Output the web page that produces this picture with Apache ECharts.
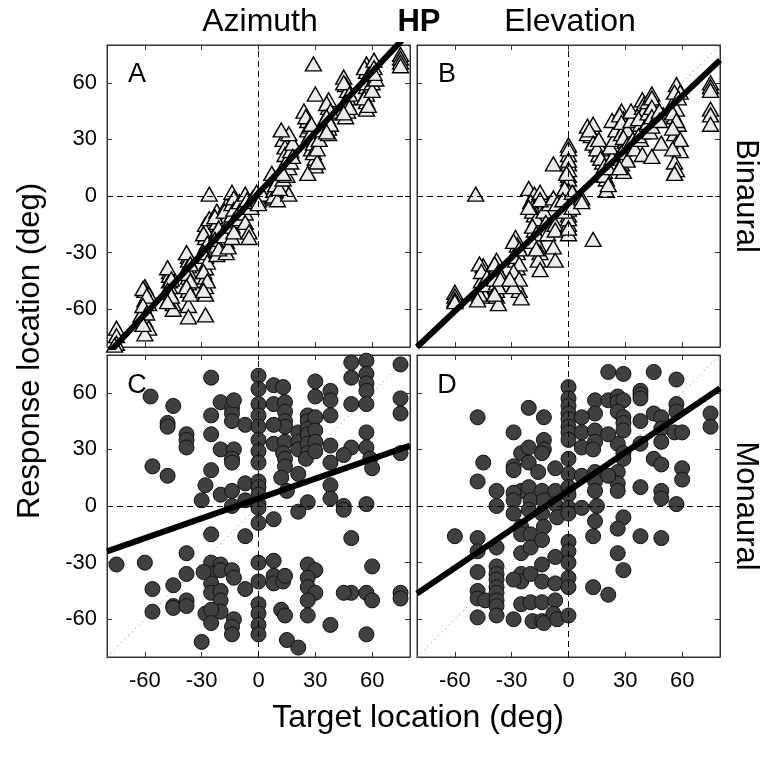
<!DOCTYPE html>
<html>
<head>
<meta charset="utf-8">
<script src="https://cdn.jsdelivr.net/npm/echarts@6/dist/echarts.min.js"></script>
<style>
  html, body { margin: 0; padding: 0; background: #fff; }
  #chart { width: 765px; height: 765px; }
</style>
</head>
<body>
<div id="chart"></div>
<script>
// axis settings
const axisMin = -80
const axisMax = 80
const tickValues = [-60, -30, 0, 30, 60]

// panel A: azimuth, binaural [target, response]
const azBinaural = [
  [-75, -70], [-75, -74], [-75, -78], [-76, -79],
  [-60, -48], [-60, -50], [-58, -52], [-60, -55], [-58, -57], [-60, -60], [-62, -63], [-60, -66], [-58, -70], [-60, -73],
  [-61, -49], [-59, -53], [-61, -58], [-59, -62], [-61, -68],
  [-47, -40], [-47, -42], [-47, -45], [-47, -48], [-47, -51], [-47, -54], [-45, -57], [-45, -60],
  [-48, -38], [-46, -44], [-48, -50], [-46, -53], [-48, -56],
  [-37, -32], [-37, -34], [-37, -37], [-37, -40], [-37, -43], [-37, -46], [-37, -50], [-37, -58], [-37, -64],
  [-38, -30], [-36, -36], [-38, -41], [-36, -45], [-38, -48], [-36, -52],
  [-28, -15], [-28, -18], [-28, -22], [-28, -27], [-28, -32], [-28, -38], [-28, -43], [-28, -48], [-28, -52], [-28, -63], [-26, 1],
  [-29, -20], [-27, -25], [-29, -30], [-27, -35], [-29, -40], [-27, -45], [-29, -50], [-26, -12],
  [-22, -8], [-22, -14], [-22, -20], [-22, -26], [-22, -31], [-17, -5], [-17, -12], [-17, -18], [-17, -24], [-17, -30],
  [-23, -11], [-21, -17], [-23, -23], [-21, -28], [-18, -8], [-16, -15], [-18, -21], [-16, -27],
  [-14, 2], [-14, -4], [-14, -10], [-14, -16], [-14, -22],
  [-13, -1], [-13, -7], [-13, -13], [-13, -19], [-10, -3], [-10, -8], [-10, -12],
  [-7, 1], [-7, -4], [-7, -9], [-7, -14], [-5, -19], [-5, -22],
  [-6, -2], [-4, -6], [-3, -1], [-2, -3], [1, -1], [-1, 2], [3, -1],
  [0, 0], [0, -2], [2, 1], [0, -4], [8, 3], [8, 0], [10, -2],
  [7, 12], [10, 9], [12, 7], [14, 4], [16, 1], [9, 6], [11, 4], [13, 9], [15, 11],
  [13, 30], [14, 26], [14, 22], [15, 19], [16, 15], [13, 12],
  [17, 18], [17, 24], [18, 28], [16, 33], [12, 35], [18, 21],
  [24, 45], [26, 40], [26, 35], [28, 30], [28, 25], [30, 20], [30, 16], [26, 12], [30, 54], [29, 70],
  [25, 42], [27, 37], [27, 32], [29, 28], [29, 23], [31, 18], [31, 25], [32, 30], [32, 35], [28, 38],
  [37, 51], [37, 47], [37, 44], [37, 40], [37, 36], [37, 33],
  [36, 49], [38, 45], [36, 42], [38, 38], [36, 34],
  [45, 63], [46, 59], [47, 56], [47, 52], [47, 49], [47, 45], [46, 42],
  [45, 60], [48, 54], [46, 50], [48, 47], [45, 44],
  [57, 70], [57, 66], [57, 62], [57, 58], [57, 54], [57, 50], [57, 46],
  [56, 68], [58, 64], [56, 60], [58, 56], [56, 52], [58, 48], [60, 60], [60, 56], [62, 62],
  [61, 72], [61, 68], [61, 65],
  [75, 75], [75, 73], [75, 71], [75, 69]
]

// panel B: elevation, binaural
const elBinaural = [
  [-60, -51], [-60, -53], [-60, -55], [-60, -56], [-49, 1],
  [-45, -37], [-46, -45], [-45, -48], [-45, -50], [-44, -53], [-47, -52], [-48, -55], [-47, -36],
  [-46, -40], [-44, -47], [-43, -43],
  [-38, -34], [-38, -38], [-38, -42], [-38, -46], [-38, -50], [-38, -53], [-37, -57],
  [-39, -36], [-37, -40], [-39, -44], [-37, -48], [-39, -52], [-36, -44],
  [-28, -22], [-27, -26], [-27, -30], [-28, -34], [-27, -38], [-28, -42], [-28, -46], [-26, -50], [-25, -54],
  [-29, -24], [-26, -28], [-29, -32], [-26, -36], [-29, -40], [-26, -44], [-29, -48], [-31, -44],
  [-21, 4], [-18, 1], [-20, -3], [-19, -6], [-18, -10], [-17, -14], [-18, -18], [-18, -22], [-16, -26], [-15, -30], [-16, -34], [-15, -39],
  [-19, -8], [-17, -12], [-19, -16], [-17, -20], [-19, -24], [-17, -28], [-13, -8], [-12, -14], [-11, -20], [-10, -4],
  [-15, 2], [-15, -2], [-21, -6],
  [-8, 17], [-8, -1], [-6, -4], [-7, -15], [-7, -18], [-8, -27], [-7, -34],
  [0, 27], [0, 22], [0, 17], [0, 11], [0, 6], [0, 1], [0, -4], [0, -10], [0, -15], [0, -20],
  [0, 25], [0, 19], [0, 14], [0, 9], [0, 3], [0, -2], [0, -7], [0, -12], [0, -17], [-2, 4], [-3, -2], [-2, -8], [2, 2], [2, -6], [-1, 12],
  [7, -1], [7, -3], [13, -23], [20, 3],
  [10, 37], [12, 32], [15, 27], [16, 22], [18, 18], [19, 13], [20, 9], [14, 30], [17, 25], [13, 38], [10, 33],
  [11, 35], [13, 28], [15, 25], [17, 20], [19, 16], [19, 11], [21, 6], [16, 30], [21, 15], [23, 20], [22, 26], [24, 30], [25, 35], [23, 40],
  [28, 45], [29, 41], [30, 37], [28, 33], [30, 29], [29, 25], [30, 21], [28, 17], [29, 13],
  [27, 43], [28, 39], [31, 35], [29, 31], [31, 27], [28, 23], [31, 19], [27, 15], [33, 40], [33, 45], [34, 30], [35, 25],
  [39, 51], [39, 47], [39, 43], [38, 38], [39, 34], [38, 30], [39, 22],
  [40, 49], [40, 45], [37, 41], [40, 36], [37, 32], [42, 50], [42, 44], [42, 39], [43, 34], [45, 49], [46, 44], [50, 43],
  [44, 54], [44, 52], [44, 47], [44, 42], [44, 37], [44, 21], [49, 28], [48, 45], [48, 40],
  [57, 59], [55, 49], [57, 46], [56, 42], [58, 38], [56, 33], [57, 28], [59, 24], [56, 18], [57, 14], [56, 12], [59, 55],
  [56, 55], [58, 52], [55, 44], [57, 40], [55, 36], [59, 30], [55, 25],
  [75, 60], [75, 58], [75, 56], [75, 46], [75, 43], [75, 38]
]

// panel C: azimuth, monaural
const azMonaural = [
  [-57, 58], [-45, 53], [-48, 44], [-48, 42], [-38, 38], [-38, 35], [-38, 31], [-56, 21], [-48, 16],
  [-25, 68], [-25, 48], [-25, 38], [-25, 19], [-28, 11], [-30, 3], [-20, 55], [-20, 30], [-20, 6],
  [-14, 52], [-14, 49], [-14, 45], [-13, 56], [-13, 30], [-14, 25], [-14, 23], [-7, 43], [-14, 8], [-14, 0], [-7, 12], [-7, 3],
  [-25, -15], [-7, -16], [-38, -25], [-75, -31], [-60, -30], [-38, -36], [-56, -44], [-45, -42], [-56, -56], [-45, -53], [-45, -54], [-38, -50], [-38, -53],
  [-25, -30], [-25, -36], [-25, -41], [-25, -46], [-29, -35], [-20, -31], [-20, -34], [-20, -45], [-20, -50], [-20, -56], [-14, -34], [-13, -38], [-7, -44],
  [-28, -57], [-25, -55], [-25, -62], [-13, -60], [-14, -64], [-14, -68], [-30, -72],
  [0, 69], [0, 62], [0, 54], [0, 48], [0, 42], [0, 35], [0, 29], [0, 23], [0, 13], [0, 10], [0, 6], [0, 1], [0, -1], [0, -9],
  [0, -30], [0, -40], [0, -52], [0, -57], [0, -63], [0, -68],
  [8, 64], [13, 63], [8, 54], [14, 55], [14, 50], [14, 45], [14, 42], [8, 43], [8, 33], [14, 34], [13, 28], [14, 25], [14, 21], [12, 15], [15, 8],
  [21, 39], [21, 34], [21, 30], [21, 17], [26, 48], [26, 45], [26, 41], [26, 38], [26, 33], [26, 28], [25, 25],
  [30, 47], [30, 40], [30, 34], [30, 29], [30, 66], [30, 58],
  [38, 61], [38, 56], [38, 48], [38, 32], [38, 23], [38, 11], [38, 4], [26, 2], [21, -3], [8, -7], [45, 0], [45, -2],
  [49, 76], [49, 68], [49, 54], [49, 31], [45, 27], [57, 77], [57, 70], [57, 65], [57, 61], [57, 54], [57, 39], [57, 31], [59, 25], [60, 20], [57, 1],
  [75, 75], [75, 57], [75, 49], [75, 28], [49, -17],
  [8, -29], [8, -37], [8, -41], [13, -40], [14, -37], [12, -55], [14, -58], [15, -71], [21, -75],
  [26, -31], [30, -34], [26, -38], [26, -43], [30, -46], [26, -50], [26, -58], [38, -63],
  [49, -46], [45, -46], [57, -46], [60, -50], [60, -32], [57, -68], [75, -46], [75, -49]
]

// panel D: elevation, monaural
const elMonaural = [
  [-48, 47], [-45, 23], [-48, 13], [-38, 8], [-38, 0], [-60, -16], [-48, -17], [-48, -24], [-48, -35], [-38, -22],
  [-48, -45], [-48, -49], [-44, -50], [-48, -59],
  [-38, -32], [-38, -36], [-38, -39], [-38, -43], [-38, -46], [-38, -50], [-38, -53], [-38, -58],
  [-29, 39], [-21, 52], [-13, 47], [-25, 28], [-29, 21], [-29, 19], [-25, 8], [-29, 7], [-29, 3], [-29, -4], [-25, -11],
  [-21, 31], [-21, 23], [-16, 18], [-21, 10], [-20, 3], [-21, -2], [-13, 35], [-13, 30], [-14, 28], [-7, 20], [-14, 8], [-13, 3], [-14, -4], [-13, -11],
  [-7, 8], [-7, 1], [-6, -6],
  [-25, -15], [-25, -25], [-25, -36], [-25, -40], [-29, -39], [-25, -52], [-29, -60],
  [-20, -15], [-20, -22], [-20, -36], [-20, -51], [-19, -61], [-14, -18], [-14, -31], [-14, -40], [-14, -51], [-14, -61], [-13, -62],
  [-7, -27], [-7, -41], [-7, -50], [-8, -57], [-6, -60],
  [0, 63], [0, 57], [0, 53], [0, 49], [0, 46], [0, 42], [0, 39], [0, 35], [0, 25], [0, 17], [0, 10], [0, 6], [0, -1], [0, -4],
  [0, -19], [0, -24], [0, -30], [0, -38], [0, -43], [0, -58],
  [21, 71], [29, 70], [45, 71], [57, 67], [38, 61], [38, 59], [38, 57],
  [14, 56], [14, 49], [21, 56], [26, 58], [26, 55], [29, 56], [26, 50], [29, 47], [29, 44], [29, 40], [26, 33], [29, 28], [29, 25], [26, 18], [26, 12], [26, 8],
  [7, 47], [7, 39], [7, 31], [14, 40], [14, 34], [13, 30], [21, 38],
  [7, 16], [14, 18], [14, 13], [14, 8], [15, 0], [7, -1], [21, 16],
  [38, 45], [38, 33], [38, 10],
  [45, 49], [49, 47], [49, 41], [49, 34], [45, 25], [49, 22], [49, 8], [49, 4],
  [57, 54], [57, 50], [56, 39], [60, 39], [60, 20], [60, 14], [57, 1],
  [75, 49], [75, 42],
  [14, -8], [13, -16], [29, -6], [26, -12], [38, -16], [49, -17], [26, -25], [29, -34], [13, -43], [21, -47]
]

// regression fits per panel (A, B, C, D)
const fitSlopes = [1.07, 0.95, 0.35, 0.68]
const fitIntercepts = [1.5, -4, 4, 8]

const panelLetters = ['A', 'B', 'C', 'D']
const panelData = [azBinaural, elBinaural, azMonaural, elMonaural]

// 画布布局
const grids = [
  { left: 107, top: 45, width: 303, height: 302 },
  { left: 417, top: 45, width: 303, height: 302 },
  { left: 107, top: 355, width: 303, height: 302 },
  { left: 417, top: 355, width: 303, height: 302 }
]
const letterPos = [[137, 75], [447, 75], [137, 386], [447, 386]]

const FONT = '"Liberation Sans", Arial, sans-serif'

const makeAxis = (dim, i, pos, labels) => ({
  type: 'value',
  gridIndex: i,
  position: pos,
  min: axisMin,
  max: axisMax,
  axisLine: { show: true, onZero: false, lineStyle: { color: '#333', width: 1 } },
  axisTick: { show: true, inside: true, length: 5, customValues: tickValues, lineStyle: { color: '#333' } },
  axisLabel: {
    show: labels,
    customValues: tickValues,
    fontFamily: FONT,
    fontSize: 22,
    color: '#000',
    margin: dim === 'x' ? 13 : 10
  },
  splitLine: { show: false }
})

const xAxes = []
const yAxes = []
grids.forEach((g, i) => {
  xAxes.push(makeAxis('x', i, 'bottom', i >= 2))
  xAxes.push(makeAxis('x', i, 'top', false))
  yAxes.push(makeAxis('y', i, 'left', i % 2 === 0))
  yAxes.push(makeAxis('y', i, 'right', false))
})

const series = []
panelData.forEach((data, i) => {
  const binaural = i < 2
  // 对角线 y = x
  series.push({
    type: 'line',
    xAxisIndex: i * 2,
    yAxisIndex: i * 2,
    data: [[axisMin, axisMin], [axisMax, axisMax]],
    symbol: 'none',
    silent: true,
    z: 1,
    lineStyle: { color: '#777', width: 1, type: [1, 4] }
  })
  // 散点
  series.push({
    type: 'scatter',
    xAxisIndex: i * 2,
    yAxisIndex: i * 2,
    data: data,
    z: 2,
    symbol: binaural ? 'triangle' : 'circle',
    symbolSize: binaural ? [16, 14] : 15,
    itemStyle: binaural
      ? { color: '#ececec', borderColor: '#000', borderWidth: 1.4, opacity: 1 }
      : { color: '#404040', borderColor: '#111', borderWidth: 1, opacity: 1 }
  })
  // 零刻度虚线
  series.push({
    type: 'scatter',
    xAxisIndex: i * 2,
    yAxisIndex: i * 2,
    data: [],
    z: 3,
    markLine: {
      silent: true,
      symbol: 'none',
      label: { show: false },
      lineStyle: { color: '#000', width: 1, type: [6, 4] },
      data: [{ xAxis: 0 }, { yAxis: 0 }]
    }
  })
  // 回归线
  series.push({
    type: 'line',
    xAxisIndex: i * 2,
    yAxisIndex: i * 2,
    data: [axisMin, axisMax].map(x => [x, fitSlopes[i] * x + fitIntercepts[i]]),
    symbol: 'none',
    clip: true,
    silent: true,
    z: 4,
    lineStyle: { color: '#000', width: 6 }
  })
})

const text = (str, x, y, size, opts = {}) => ({
  type: 'text',
  x: x,
  y: y,
  rotation: opts.rotation || 0,
  style: {
    text: str,
    font: (opts.bold ? 'bold ' : '') + size + 'px ' + FONT,
    fill: '#000',
    textAlign: 'center',
    textVerticalAlign: 'middle'
  }
})

const graphics = [
  text('Azimuth', 260, 22, 32),
  text('HP', 419, 22, 31, { bold: true }),
  text('Elevation', 570, 22, 32),
  text('Binaural', 746, 196, 31, { rotation: -Math.PI / 2 }),
  text('Monaural', 746, 506, 31, { rotation: -Math.PI / 2 }),
  text('Response location (deg)', 30, 351, 31, { rotation: Math.PI / 2 }),
  text('Target location (deg)', 418, 718, 32)
]
panelLetters.forEach((l, i) => graphics.push(text(l, letterPos[i][0], letterPos[i][1], 27)))

const chart = echarts.init(document.getElementById('chart'), null, { renderer: 'canvas' })
chart.setOption({
  animation: false,
  backgroundColor: '#fff',
  grid: grids.map(g => Object.assign({ show: true, borderColor: '#333', borderWidth: 1, backgroundColor: '#fff' }, g)),
  xAxis: xAxes,
  yAxis: yAxes,
  series: series,
  graphic: graphics
})
</script>
</body>
</html>
